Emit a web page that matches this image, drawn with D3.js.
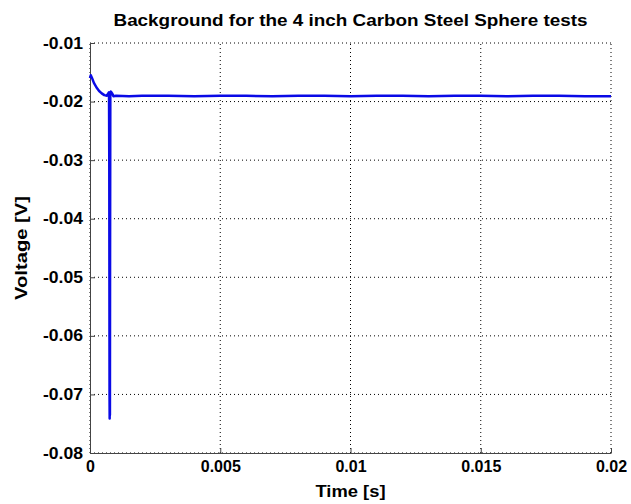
<!DOCTYPE html>
<html>
<head>
<meta charset="utf-8">
<script src="https://cdn.jsdelivr.net/npm/d3@7"></script>
<style>
  body { margin: 0; background: #fff; }
  svg text { font-family: "Liberation Sans", Arial, sans-serif; font-weight: bold; fill: #000; }
</style>
</head>
<body>
<div id="chart"></div>
<script>
// data (time in s, voltage in V)
const times = [0, 0.00003, 0.00008, 0.00015, 0.00025, 0.00035, 0.00045, 0.00055, 0.00065, 0.0007, 0.00073,
  0.00074, 0.00075, 0.000755, 0.00076, 0.000765, 0.00077, 0.00078, 0.0008, 0.00085, 0.0009, 0.001, 0.0015, 0.002, 0.003, 0.004, 0.005,
  0.006, 0.007, 0.008, 0.009, 0.01, 0.011, 0.012, 0.013, 0.014, 0.015, 0.016, 0.017, 0.018, 0.019, 0.02];
const voltages = [-0.0160, -0.0155, -0.0160, -0.0168, -0.0176, -0.0182, -0.0186, -0.0189, -0.0190, -0.0186, -0.0184,
  -0.0300, -0.0700, -0.0741, -0.0600, -0.0735, -0.0480, -0.0186, -0.0183, -0.0186, -0.0191, -0.0190, -0.0191, -0.0190, -0.0190, -0.0191, -0.0190,
  -0.0190, -0.0191, -0.0190, -0.0190, -0.0191, -0.0190, -0.0190, -0.0191, -0.0190, -0.0190, -0.0191, -0.0190, -0.0190, -0.0191, -0.0191];
const xTicks = [0, 0.005, 0.01, 0.015, 0.02];
const xTickLabels = ["0", "0.005", "0.01", "0.015", "0.02"];
const yTicks = [-0.01, -0.02, -0.03, -0.04, -0.05, -0.06, -0.07, -0.08];
const yTickLabels = ["-0.01", "-0.02", "-0.03", "-0.04", "-0.05", "-0.06", "-0.07", "-0.08"];

let width = 631;
let height = 504;
let margin = { top: 43, right: 20, bottom: 51, left: 90 };

let svg = d3.select("#chart")
  .append("svg")
  .attr("width", width)
  .attr("height", height);

let x = d3.scaleLinear().domain([0, 0.02]).range([margin.left, width - margin.right]);
let y = d3.scaleLinear().domain([-0.08, -0.01]).range([height - margin.bottom, margin.top]);

// dotted grid (also forms the top and right edges)
svg.append("g")
  .selectAll("line")
  .data(xTicks)
  .join("line")
  .attr("x1", d => x(d)).attr("x2", d => x(d))
  .attr("y1", y(-0.08)).attr("y2", y(-0.01))
  .attr("stroke", "#000").attr("stroke-width", 1)
  .attr("stroke-dasharray", "1,3");

svg.append("g")
  .selectAll("line")
  .data(yTicks)
  .join("line")
  .attr("x1", x(0)).attr("x2", x(0.02))
  .attr("y1", d => y(d)).attr("y2", d => y(d))
  .attr("stroke", "#000").attr("stroke-width", 1)
  .attr("stroke-dasharray", "1,3");

// axes
let xAxis = d3.axisBottom(x).tickValues(xTicks)
  .tickFormat((d, i) => xTickLabels[i]).tickSizeInner(-5).tickSizeOuter(0).tickPadding(8);
let yAxis = d3.axisLeft(y).tickValues(yTicks)
  .tickFormat((d, i) => yTickLabels[i]).tickSizeInner(-5).tickSizeOuter(0).tickPadding(7);

let gx = svg.append("g")
  .attr("transform", `translate(0,${y(-0.08)})`)
  .call(xAxis);
let gy = svg.append("g")
  .attr("transform", `translate(${x(0)},0)`)
  .call(yAxis);

[gx, gy].forEach(g => {
  g.select(".domain").attr("stroke", "#444");
  g.selectAll(".tick line").attr("stroke", "#444");
  g.selectAll(".tick text").style("font-size", "16px").style("font-family", "'Liberation Sans', Arial, sans-serif").style("font-weight", "bold");
});
gy.selectAll(".tick text").attr("textLength", 40).attr("lengthAdjust", "spacingAndGlyphs");

// data line
let line = d3.line().x((d, i) => x(times[i])).y(d => y(d));
svg.append("path")
  .datum(voltages)
  .attr("fill", "none")
  .attr("stroke", "#0a0ae6")
  .attr("stroke-width", 2.5)
  .attr("stroke-linejoin", "round")
  .attr("d", line);

// title and labels
svg.append("text")
  .attr("x", (x(0) + x(0.02)) / 2)
  .attr("y", 26)
  .attr("text-anchor", "middle")
  .attr("textLength", 474)
  .attr("lengthAdjust", "spacingAndGlyphs")
  .style("font-size", "17px")
  .text("Background for the 4 inch Carbon Steel Sphere tests");

svg.append("text")
  .attr("x", (x(0) + x(0.02)) / 2)
  .attr("y", 497)
  .attr("text-anchor", "middle")
  .attr("textLength", 70)
  .attr("lengthAdjust", "spacingAndGlyphs")
  .style("font-size", "16px")
  .text("Time [s]");

svg.append("text")
  .attr("transform", `translate(27,${(y(-0.01) + y(-0.08)) / 2}) rotate(-90)`)
  .attr("text-anchor", "middle")
  .attr("textLength", 104)
  .attr("lengthAdjust", "spacingAndGlyphs")
  .style("font-size", "16px")
  .text("Voltage [V]");
</script>
</body>
</html>
